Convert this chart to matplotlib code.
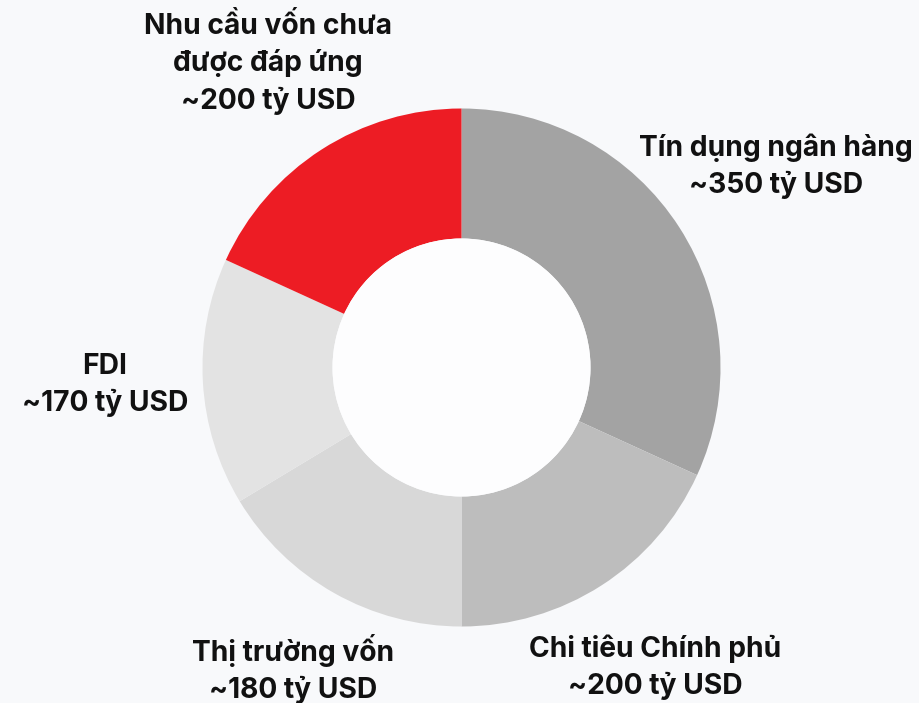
import matplotlib
matplotlib.use("Agg")
import matplotlib.pyplot as plt
from matplotlib.patches import Circle

labels = ["Tín dụng ngân hàng", "Chi tiêu Chính phủ", "Thị trường vốn", "FDI",
          "Nhu cầu vốn chưa\nđược đáp ứng"]
values = [350, 200, 180, 170, 200]
colors = ["#a3a3a3", "#bdbdbd", "#d8d8d8", "#e3e3e3", "#ed1c24"]

plt.rcParams['font.family'] = ['Inter', 'DejaVu Sans']

W, H = 919, 703
fig = plt.figure(figsize=(W / 100, H / 100), dpi=100)
fig.patch.set_facecolor("#f8f9fb")
ax = fig.add_axes([0, 0, 1, 1])
ax.set_xlim(0, W)
ax.set_ylim(0, H)
ax.set_aspect("equal")
ax.axis("off")

cx, cy = 461.5, H - 367.5
R = 259
r_in = 129
ax.pie(values, colors=colors, startangle=90, counterclock=False,
       center=(cx, cy), radius=R,
       wedgeprops=dict(width=R - r_in, linewidth=0), frame=True)
ax.add_patch(Circle((cx, cy), r_in, facecolor="#fdfdfe", edgecolor="none"))
ax.set_xlim(0, W)
ax.set_ylim(0, H)
ax.axis("off")

label_pos = [(776, 166), (655, 667), (293, 669), (105, 385), (268, 64)]
for lab, v, (x, y) in zip(labels, values, label_pos):
    ax.text(x, H - y, f"{lab}\n~{v} tỷ USD", ha="center", va="center",
            fontsize=20.3, fontweight="bold", color="#111111",
            linespacing=1.42)

fig.savefig("out.png", dpi=100, facecolor=fig.get_facecolor())
